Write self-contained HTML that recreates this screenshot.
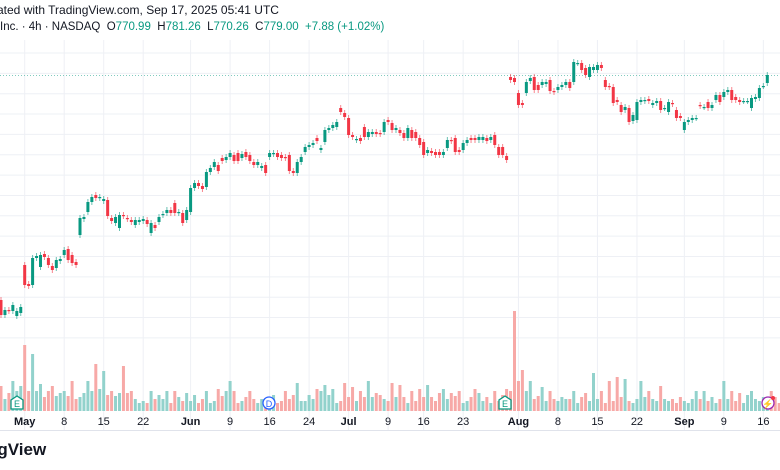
<!DOCTYPE html>
<html><head><meta charset="utf-8"><style>
body{margin:0;width:780px;height:470px;overflow:hidden;background:#fff;font-family:"Liberation Sans",sans-serif;position:relative}
.t{position:absolute;white-space:nowrap;color:#131722}
</style></head><body>
<div class="t" style="left:-3px;top:3px;font-size:12px">ated with TradingView.com, Sep 17, 2025 05:41 UTC</div>
<div class="t" style="left:0px;top:21px;font-size:11.5px">Inc. · 4h · NASDAQ&nbsp; O<span style="color:#089981">770.99</span>&nbsp; H<span style="color:#089981">781.26</span>&nbsp; L<span style="color:#089981">770.26</span>&nbsp; C<span style="color:#089981">779.00</span>&nbsp; <span style="color:#089981">+7.88 (+1.02%)</span></div>
<svg id="chart" width="780" height="470" style="position:absolute;left:0;top:0"></svg>
<div class="t" style="left:-13px;top:440px;font-size:17px;font-weight:bold">ngView</div>
<script>
const opens=[554,539,544,543,538,541,589,570,569,596,587,600,596,588,586,593,599,605,599,592,619,635,642,652,659,656,653,654,636,631,626,639,636,634,629,632,633,634,621,629,632,639,641,644,651,641,641,634,642,666,671,668,667,682,687,689,696,694,697,699,701,696,702,699,692,689,686,689,697,700,701,699,697,699,683,681,692,702,707,709,716,704,712,724,726,727,746,741,736,719,714,716,727,717,720,722,721,722,734,731,724,724,721,716,724,722,716,712,701,703,702,702,699,706,714,716,704,704,711,716,716,714,714,716,714,719,707,707,698,777,776,761,751,761,773,777,769,769,770,774,763,764,767,769,772,772,791,791,786,777,784,784,789,774,768,767,754,749,744,746,733,734,752,753,755,749,751,753,746,742,751,744,738,724,732,734,736,749,747,752,746,754,759,757,762,764,757,754,753,753,746,755,756,768,771];
const closes=[539,544,543,549,543,547,569,568,596,598,599,597,589,584,594,595,604,594,591,589,636,637,652,657,656,657,655,638,633,637,639,638,635,632,634,634,635,630,631,626,637,640,644,641,641,642,631,644,666,671,668,665,682,686,692,683,693,697,701,693,693,700,697,693,689,692,688,681,701,701,697,696,696,683,681,692,697,707,709,711,713,706,724,726,729,732,742,737,719,717,715,713,717,722,722,720,720,732,732,724,726,721,716,726,716,716,709,699,704,701,699,699,702,714,713,702,702,711,714,714,714,717,717,713,717,709,699,699,694,774,772,749,749,772,776,764,764,772,772,763,762,767,769,772,766,792,791,784,779,787,787,789,786,767,767,751,752,742,747,732,739,752,754,754,753,751,753,744,746,752,750,736,736,732,734,736,736,748,747,746,749,759,752,762,764,754,754,752,753,753,756,757,766,768,779];
const volumes=[25,12,18,30,20,25,66,20,57,20,27,14,20,25,15,18,20,15,30,12,14,18,30,20,47,22,40,16,20,15,18,45,18,20,12,8,10,8,20,12,16,12,20,8,20,14,10,18,10,16,8,12,20,8,10,22,15,20,30,20,8,10,14,20,12,8,12,10,8,16,8,10,20,12,16,28,10,10,16,12,22,20,26,16,22,8,10,28,14,24,10,20,14,30,14,18,16,12,10,28,14,26,14,8,20,10,22,14,26,14,10,18,22,12,18,15,20,8,10,14,22,18,10,14,8,20,10,16,22,20,100,30,41,20,30,12,15,24,10,20,12,10,14,12,12,20,8,14,18,10,38,12,20,8,30,10,34,14,32,10,8,12,30,14,20,12,10,25,12,10,12,8,14,10,8,12,20,12,20,10,14,8,12,30,12,20,10,18,8,16,20,12,10,14,10,20,14,8,20,10,26,25,20];
const dateTicks=["May","8","15","22","Jun","9","16","24","Jul","9","16","23","Aug","8","15","22","Sep","9","16"];
const dateBars=[6,16,26,36,48,58,68,78,88,98,107,117,131,141,151,161,173,183,193];
const NS="http://www.w3.org/2000/svg";
const svg=document.getElementById('chart');
function xOf(i){return 1+i*3.95;}
function yOf(p){return 854-p;}
function vY(v){return 411-v;}
function mk(tag,attrs,parent){const e=document.createElementNS(NS,tag);for(const k in attrs)e.setAttribute(k,attrs[k]);(parent||svg).appendChild(e);return e;}
const grid=mk('g',{});


for(let k=0;k<15;k++){const y=53+k*20.35;const l=mk('line',{x1:0,x2:780,y1:y,y2:y,stroke:'#eef0f5','stroke-width':1},grid);

}
dateBars.forEach((b,i)=>{const x=xOf(b);const l=mk('line',{x1:x,x2:x,y1:40,y2:430,stroke:'#eef0f5','stroke-width':1},grid);

});
const axl=mk('line',{x1:0,x2:780,y1:430.5,y2:430.5,stroke:'#e0e3eb'});


const pl=mk('line',{x1:0,x2:780,y1:yOf(closes[closes.length-1])+0.5,y2:yOf(closes[closes.length-1])+0.5,stroke:'#089981','stroke-width':1,'stroke-dasharray':'1 2',opacity:0.5});


for(let i=0;i<volumes.length;i++){const up=closes[i]>=opens[i];const x=xOf(i);
const r=mk('rect',{x:x-1.5,y:vY(volumes[i]),width:3,height:volumes[i],fill:up?'#92d2cc':'#f7a9a7'});

}
for(let i=0;i<opens.length;i++){const up=closes[i]>=opens[i];const c=up?'#089981':'#f23645';const x=xOf(i);
const top=yOf(Math.max(opens[i],closes[i])),bot=yOf(Math.min(opens[i],closes[i]));
const g=mk('g',{});


mk('line',{x1:x,x2:x,y1:top-3,y2:bot+3,stroke:c,'stroke-width':1,opacity:0.6},g);
mk('rect',{x:x-1.5,y:top,width:3,height:Math.max(1.2,bot-top),fill:c},g);}
dateTicks.forEach((t,i)=>{const e=mk('text',{x:xOf(dateBars[i]),y:425,'text-anchor':'middle','font-size':11,fill:'#131722','font-family':'Liberation Sans, sans-serif','font-weight':/^[A-Z]/.test(t)?'bold':'normal'});e.textContent=t;

});
function marker(x,label,col,name){const g=mk('g',{});


if(label==='D'){mk('circle',{cx:x,cy:403,r:6,fill:'#fff',stroke:col,'stroke-width':1.3},g);}
else if(label==='E'){mk('path',{d:`M${x-6} 409 V400 L${x} 396 L${x+6} 400 V409 Z`,fill:'#fff',stroke:col,'stroke-width':1.3},g);}
else{mk('circle',{cx:x,cy:403,r:6,fill:'#fff',stroke:col,'stroke-width':1.3},g);mk('circle',{cx:x+5,cy:398,r:2,fill:'#f23645'},g);}
const t=mk('text',{x:x,y:407,'text-anchor':'middle','font-size':9,fill:col,'font-family':'Liberation Sans, sans-serif'},g);t.textContent=label==='S'?'⚡':label;}
marker(17,'E','#089981','earnings-marker');
marker(269,'D','#2962ff','dividend-marker');
marker(505,'E','#089981','earnings-marker');
marker(768,'S','#9c27b0','split-news-marker');
</script>
</body></html>
